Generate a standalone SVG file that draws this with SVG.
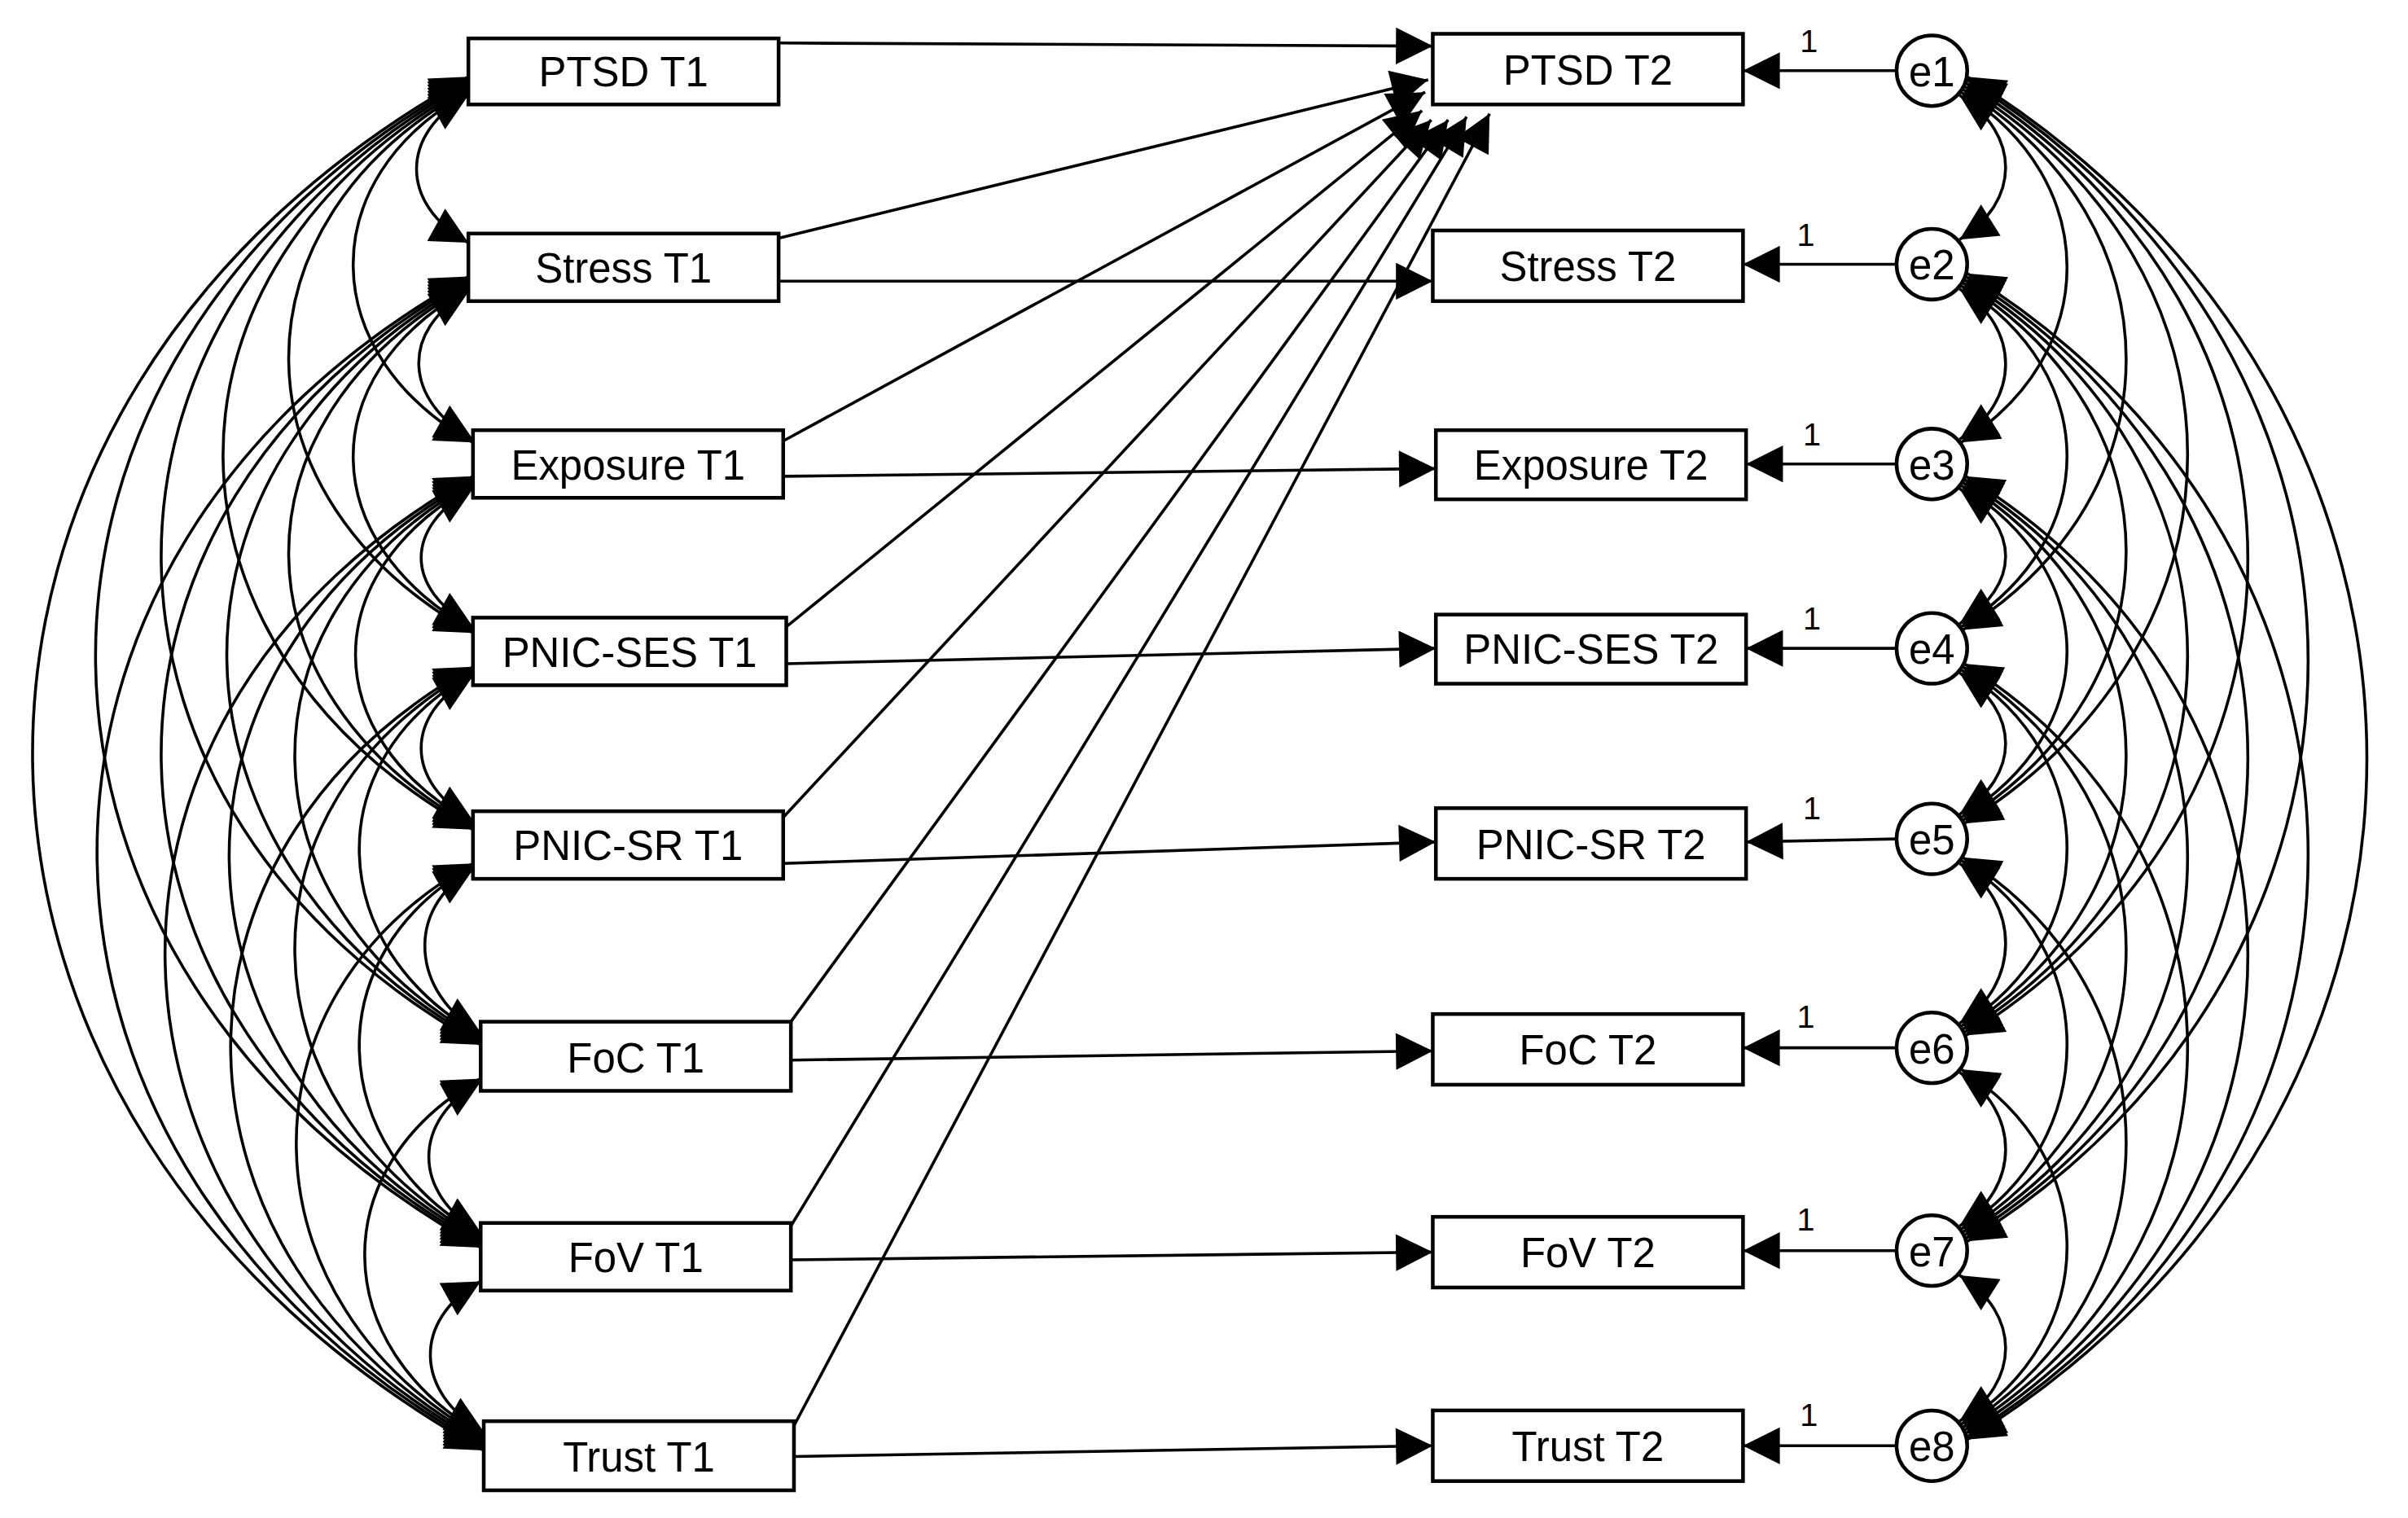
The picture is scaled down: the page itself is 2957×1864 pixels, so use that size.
<svg xmlns="http://www.w3.org/2000/svg" width="2957" height="1864" viewBox="0 0 2957 1864">
<style>
.b{fill:#fff;stroke:#000;stroke-width:2.4}
.t{font-family:"Liberation Sans",Arial,sans-serif;font-size:27px;text-anchor:middle;fill:#000}
.o{font-family:"Liberation Sans",Arial,sans-serif;font-size:21px;fill:#000}
.c path{fill:none;stroke:#000;stroke-width:1.9;marker-end:url(#ah)}
.cv path{marker-start:url(#ah)}
</style>
<defs>
<marker id="ah" viewBox="0 0 10 10" refX="10" refY="5" markerUnits="userSpaceOnUse" markerWidth="44" markerHeight="24" orient="auto-start-reverse"><path d="M0,0L10,5L0,10z" fill="#000"/></marker>
</defs>
<rect width="2957" height="1864" fill="#fff"/>
<g transform="scale(1.8858,1.8866)">
<g id="connectors" class="c">
<path d="M507,28 L933,30"/>
<path d="M507,183 L933,183"/>
<path d="M510,310 L935,305"/>
<path d="M512,432 L935,422"/>
<path d="M510,562 L935,548"/>
<path d="M515,690 L933,684"/>
<path d="M515,820 L933,815"/>
<path d="M517,948 L933,941"/>
<path d="M507,155 L930,52"/>
<path d="M510,287 L928,60"/>
<path d="M512,408 L926,72"/>
<path d="M510,532 L932,78"/>
<path d="M515,665 L943,78"/>
<path d="M515,798 L955,76"/>
<path d="M517,928 L970,74"/>
<path d="M1235,46 L1135,46"/>
<path d="M1235,172 L1135,172"/>
<path d="M1235,302 L1137,302"/>
<path d="M1235,422 L1137,422"/>
<path d="M1235,546 L1137,548"/>
<path d="M1235,682 L1135,682"/>
<path d="M1235,814 L1135,814"/>
<path d="M1235,941 L1135,941"/>
<g class="cv">
<path d="M305,62 C260,87 260,133 305,158"/>
<path d="M305,190 C260,215 263,261 308,286"/>
<path d="M308,318 C263,343 263,383 308,408"/>
<path d="M308,440 C263,465 263,509 308,534"/>
<path d="M308,566 C263,591 268,647 313,672"/>
<path d="M313,704 C268,729 268,777 313,802"/>
<path d="M313,834 C268,859 270,907 315,932"/>
<path d="M305,60 C203,117 206,231 308,288"/>
<path d="M305,188 C203,245 206,353 308,410"/>
<path d="M308,316 C206,373 206,479 308,536"/>
<path d="M308,438 C206,495 211,617 313,674"/>
<path d="M308,564 C206,621 211,747 313,804"/>
<path d="M313,702 C211,759 213,877 315,934"/>
<path d="M305,58 C147,146 150,324 308,412"/>
<path d="M305,186 C147,274 150,450 308,538"/>
<path d="M308,314 C150,402 155,588 313,676"/>
<path d="M308,436 C150,524 155,718 313,806"/>
<path d="M308,562 C150,650 157,848 315,936"/>
<path d="M305,56 C90,176 93,420 308,540"/>
<path d="M305,184 C90,304 98,558 313,678"/>
<path d="M308,312 C93,432 98,688 313,808"/>
<path d="M308,434 C93,554 100,818 315,938"/>
<path d="M305,54 C33,205 41,529 313,680"/>
<path d="M305,182 C33,333 41,659 313,810"/>
<path d="M308,310 C36,461 43,789 315,940"/>
<path d="M305,52 C-24,235 -16,629 313,812"/>
<path d="M305,180 C-24,363 -14,759 315,942"/>
<path d="M305,50 C-80,264 -70,730 315,944"/>
<path d="M1276,62 C1316,87 1316,131 1276,156"/>
<path d="M1276,188 C1316,213 1316,261 1276,286"/>
<path d="M1276,318 C1316,343 1316,381 1276,406"/>
<path d="M1276,438 C1316,463 1316,505 1276,530"/>
<path d="M1276,562 C1316,587 1316,641 1276,666"/>
<path d="M1276,698 C1316,723 1316,773 1276,798"/>
<path d="M1276,830 C1316,855 1316,900 1276,925"/>
<path d="M1277,60 C1369,117 1369,231 1277,288"/>
<path d="M1277,186 C1369,243 1369,351 1277,408"/>
<path d="M1277,316 C1369,373 1369,475 1277,532"/>
<path d="M1277,436 C1369,493 1369,611 1277,668"/>
<path d="M1277,560 C1369,617 1369,743 1277,800"/>
<path d="M1277,696 C1369,753 1369,870 1277,927"/>
<path d="M1278,58 C1420,146 1420,322 1278,410"/>
<path d="M1278,184 C1420,272 1420,446 1278,534"/>
<path d="M1278,314 C1420,402 1420,582 1278,670"/>
<path d="M1278,434 C1420,522 1420,714 1278,802"/>
<path d="M1278,558 C1420,646 1420,841 1278,929"/>
<path d="M1279,56 C1473,176 1473,416 1279,536"/>
<path d="M1279,182 C1473,302 1473,552 1279,672"/>
<path d="M1279,312 C1473,432 1473,684 1279,804"/>
<path d="M1279,432 C1473,552 1473,811 1279,931"/>
<path d="M1280,54 C1525,205 1525,523 1280,674"/>
<path d="M1280,180 C1525,331 1525,655 1280,806"/>
<path d="M1280,310 C1525,461 1525,782 1280,933"/>
<path d="M1281,52 C1577,235 1577,625 1281,808"/>
<path d="M1281,178 C1577,361 1577,752 1281,935"/>
<path d="M1281,50 C1628,264 1628,723 1281,937"/>
</g>
</g>
<g id="ptsd1"><rect class="b" x="305" y="25" width="202" height="43"/><text class="t" x="406" y="56">PTSD T1</text></g>
<g id="stress1"><rect class="b" x="305" y="152" width="202" height="44"/><text class="t" x="406" y="184">Stress T1</text></g>
<g id="exposure1"><rect class="b" x="308" y="280" width="202" height="44"/><text class="t" x="409" y="312">Exposure T1</text></g>
<g id="pnicses1"><rect class="b" x="308" y="402" width="204" height="44"/><text class="t" x="410" y="434">PNIC-SES T1</text></g>
<g id="pnicsr1"><rect class="b" x="308" y="528" width="202" height="44"/><text class="t" x="409" y="560">PNIC-SR T1</text></g>
<g id="foc1"><rect class="b" x="313" y="665" width="202" height="45"/><text class="t" x="414" y="698">FoC T1</text></g>
<g id="fov1"><rect class="b" x="313" y="796" width="202" height="44"/><text class="t" x="414" y="828">FoV T1</text></g>
<g id="trust1"><rect class="b" x="315" y="925" width="202" height="45"/><text class="t" x="416" y="958">Trust T1</text></g>
<g id="ptsd2"><rect class="b" x="933" y="22" width="202" height="46"/><text class="t" x="1034" y="55">PTSD T2</text></g>
<g id="stress2"><rect class="b" x="933" y="150" width="202" height="46"/><text class="t" x="1034" y="183">Stress T2</text></g>
<g id="exposure2"><rect class="b" x="935" y="280" width="202" height="45"/><text class="t" x="1036" y="312">Exposure T2</text></g>
<g id="pnicses2"><rect class="b" x="935" y="400" width="202" height="45"/><text class="t" x="1036" y="432">PNIC-SES T2</text></g>
<g id="pnicsr2"><rect class="b" x="935" y="526" width="202" height="46"/><text class="t" x="1036" y="559">PNIC-SR T2</text></g>
<g id="foc2"><rect class="b" x="933" y="660" width="202" height="46"/><text class="t" x="1034" y="693">FoC T2</text></g>
<g id="fov2"><rect class="b" x="933" y="792" width="202" height="46"/><text class="t" x="1034" y="825">FoV T2</text></g>
<g id="trust2"><rect class="b" x="933" y="918" width="202" height="46"/><text class="t" x="1034" y="951">Trust T2</text></g>
<g id="e1"><circle class="b" cx="1258" cy="46" r="23"/><text class="t" x="1258" y="56">e1</text><text class="o" x="1172" y="34">1</text></g>
<g id="e2"><circle class="b" cx="1258" cy="172" r="23"/><text class="t" x="1258" y="182">e2</text><text class="o" x="1170" y="160">1</text></g>
<g id="e3"><circle class="b" cx="1258" cy="302" r="23"/><text class="t" x="1258" y="312">e3</text><text class="o" x="1174" y="290">1</text></g>
<g id="e4"><circle class="b" cx="1258" cy="422" r="23"/><text class="t" x="1258" y="432">e4</text><text class="o" x="1174" y="410">1</text></g>
<g id="e5"><circle class="b" cx="1258" cy="546" r="23"/><text class="t" x="1258" y="556">e5</text><text class="o" x="1174" y="533">1</text></g>
<g id="e6"><circle class="b" cx="1258" cy="682" r="23"/><text class="t" x="1258" y="692">e6</text><text class="o" x="1170" y="669">1</text></g>
<g id="e7"><circle class="b" cx="1258" cy="814" r="23"/><text class="t" x="1258" y="824">e7</text><text class="o" x="1170" y="801">1</text></g>
<g id="e8"><circle class="b" cx="1258" cy="941" r="23"/><text class="t" x="1258" y="951">e8</text><text class="o" x="1172" y="928">1</text></g>
</g>
</svg>
